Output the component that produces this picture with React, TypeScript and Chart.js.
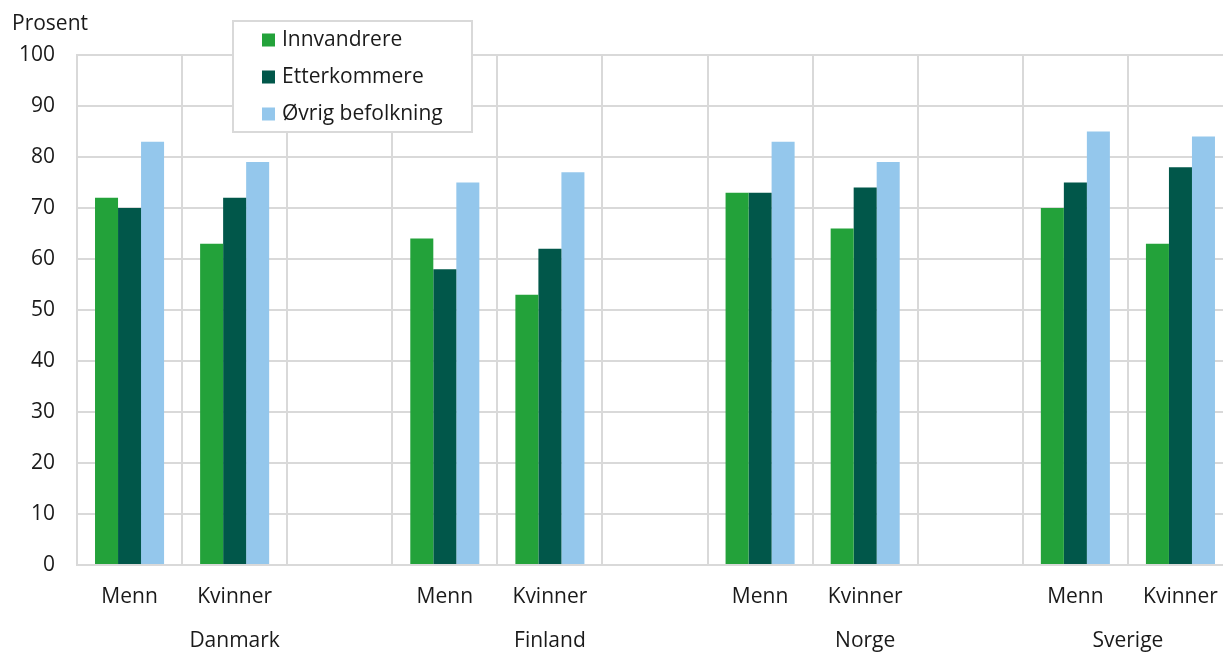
import React, { useEffect, useRef } from "react";
import { Chart, registerables } from "chart.js";

Chart.register(...registerables);

const categories = ["Menn", "Kvinner", "", "Menn", "Kvinner", "", "Menn", "Kvinner", "", "Menn", "Kvinner"];
const groupLabels = ["Danmark", "Finland", "Norge", "Sverige"];
const groupStart = [0, 3, 6, 9];
const groupEnd = [2, 5, 8, 10];
const innvandrere = [72, 63, null, 64, 53, null, 73, 66, null, 70, 63];
const etterkommere = [70, 72, null, 58, 62, null, 73, 74, null, 75, 78];
const ovrig = [83, 79, null, 75, 77, null, 83, 79, null, 85, 84];
const seriesNames = ["Innvandrere", "Etterkommere", "Øvrig befolkning"];
const seriesColors = ["#23a23a", "#01574a", "#94c7ec"];
const yTicks = [0, 10, 20, 30, 40, 50, 60, 70, 80, 90, 100];

const FONT = "'Open Sans', sans-serif";
const FS = 21;
const TEXT = "#1a1a1a";
const GRID = "#d9d9d9";

const extrasPlugin = {
  id: "extras",
  afterDraw(chart: any) {
    const ctx = chart.ctx;
    const x = chart.scales.x;
    ctx.save();
    ctx.font = `${FS}px ${FONT}`;
    ctx.fillStyle = TEXT;
    ctx.textBaseline = "middle";
    // y axis title
    ctx.textAlign = "left";
    ctx.fillText("Prosent", 12, 24);
    // group labels
    ctx.textAlign = "center";
    groupLabels.forEach((g, i) => {
      const cx = (x.getPixelForValue(groupStart[i]) + x.getPixelForValue(groupEnd[i])) / 2;
      ctx.fillText(g, cx, 641);
    });
    // legend box
    const bx = 233, by = 21, bw = 239, bh = 111;
    ctx.fillStyle = "#ffffff";
    ctx.fillRect(bx, by, bw, bh);
    ctx.strokeStyle = GRID;
    ctx.lineWidth = 2;
    ctx.strokeRect(bx, by, bw, bh);
    ctx.textAlign = "left";
    chart.data.datasets.forEach((ds: any, i: number) => {
      const cy = 40 + i * 37;
      ctx.fillStyle = ds.backgroundColor;
      ctx.fillRect(262, cy - 6.5, 13, 13);
      ctx.fillStyle = TEXT;
      ctx.fillText(ds.label, 282, cy);
    });
    ctx.restore();
  },
};

export default function App() {
  const ref = useRef<HTMLCanvasElement>(null);
  useEffect(() => {
    document.body.style.margin = "0";
    document.body.style.overflow = "hidden";
    const data = [innvandrere, etterkommere, ovrig];
    const chart = new Chart(ref.current!, {
      type: "bar",
      data: {
        labels: categories,
        datasets: data.map((d, i) => ({
          label: seriesNames[i],
          data: d as any,
          backgroundColor: seriesColors[i],
          borderWidth: 0,
          categoryPercentage: 0.657,
          barPercentage: 1,
        })),
      },
      options: {
        animation: false,
        responsive: false,
        devicePixelRatio: 1,
        layout: { padding: { top: 55, right: 12, left: 0, bottom: 0 } },
        plugins: { legend: { display: false }, tooltip: { enabled: false }, title: { display: false } },
        scales: {
          x: {
            grid: { color: GRID, lineWidth: 2, drawTicks: false, offset: true },
            border: { color: GRID, width: 2 },
            ticks: { color: TEXT, font: { family: FONT, size: FS }, padding: 19, maxRotation: 0, autoSkip: false },
            afterFit: (s: any) => { s.height = 89; },
          },
          y: {
            min: 0,
            max: 100,
            afterBuildTicks: (s: any) => { s.ticks = yTicks.map((v) => ({ value: v })); },
            grid: { color: GRID, lineWidth: 2, drawTicks: false },
            border: { color: GRID, width: 2 },
            ticks: { color: TEXT, font: { family: FONT, size: FS }, padding: 22 },
            afterFit: (s: any) => { s.width = 77; },
          },
        },
      },
      plugins: [extrasPlugin],
    });
    return () => chart.destroy();
  }, []);
  return (
    <div style={{ width: 1245, height: 654, position: "relative" }}>
      <canvas ref={ref} width={1245} height={654} style={{ display: "block" }} />
    </div>
  );
}
